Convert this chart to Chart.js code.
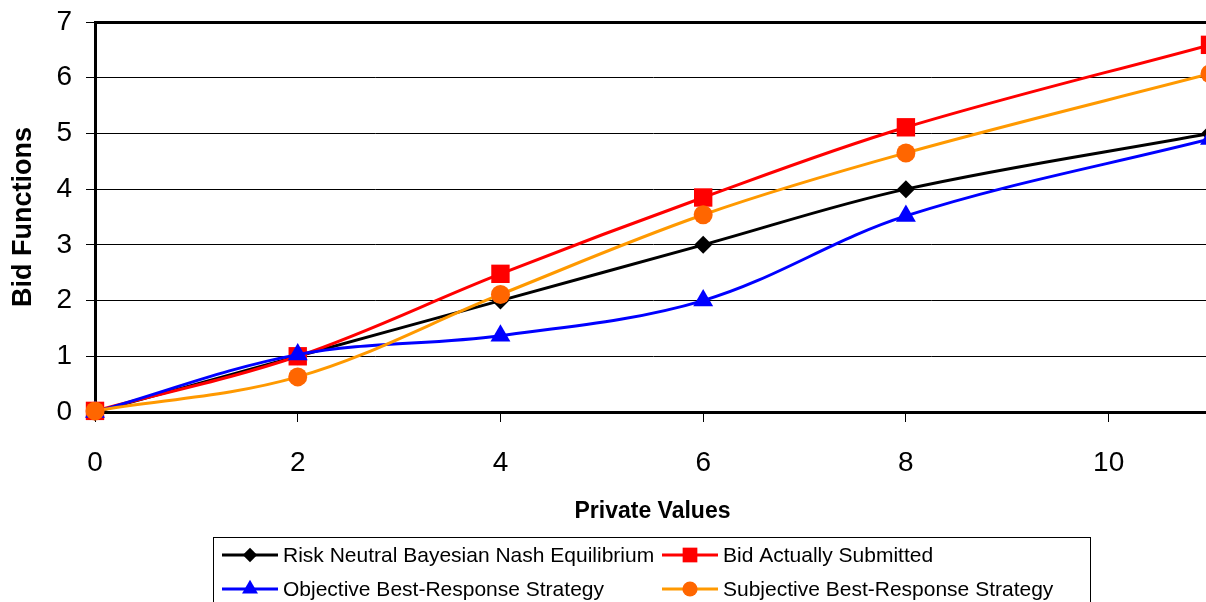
<!DOCTYPE html>
<html>
<head>
<meta charset="utf-8">
<script src="https://cdn.jsdelivr.net/npm/chart.js@4.4.1/dist/chart.umd.min.js"></script>
<style>
  html, body { margin: 0; padding: 0; background: #fff; overflow: hidden; }
  #wrap { width: 1206px; height: 602px; overflow: hidden; }
</style>
</head>
<body>
<div id="wrap"><canvas id="bid-chart" width="1210" height="602"></canvas></div>
<script>
  // -- Data --
  var privateValues = [0, 2, 4, 6, 8, 11];
  var riskNeutral = [0, 1, 2, 3, 4, 5];
  var bidSubmitted = [0.02, 1.0, 2.48, 3.85, 5.11, 6.59];
  var objectiveBR = [0, 1.03, 1.37, 2.0, 3.52, 4.9];
  var subjectiveBR = [0.02, 0.63, 2.11, 3.54, 4.65, 6.07];
  var yTicks = [0, 1, 2, 3, 4, 5, 6, 7];
  var xTicks = [0, 2, 4, 6, 8, 10];

  var FONT = '"Liberation Sans", Arial, sans-serif';

  function toPoints(ys) {
    var pts = [];
    for (var i = 0; i < privateValues.length; i++) {
      pts.push({ x: privateValues[i], y: ys[i] });
    }
    return pts;
  }

  // later series sit on top, as in the original
  function series(label, ys, line, fill, style, radius, order) {
    return {
      label: label,
      data: toPoints(ys),
      order: order,
      borderColor: line,
      backgroundColor: fill,
      pointBackgroundColor: fill,
      pointBorderColor: fill,
      pointBorderWidth: 0,
      pointStyle: style,
      pointRadius: radius,
      borderWidth: 3,
      tension: 0.35,
      fill: false,
      clip: false
    };
  }

  var datasets = [
    series('Risk Neutral Bayesian Nash Equilibrium', riskNeutral, '#000000', '#000000', 'rectRot', 9, 4),
    series('Bid Actually Submitted', bidSubmitted, '#ff0000', '#ff0000', 'rect', 13, 3),
    series('Objective Best-Response Strategy', objectiveBR, '#0000ff', '#0000ff', 'triangle', 11.5, 2),
    series('Subjective Best-Response Strategy', subjectiveBR, '#ff9900', '#ff6600', 'circle', 9.5, 1)
  ];

  // -- Boxed two-column legend, drawn below the axis title --
  var boxLegend = {
    id: 'boxLegend',
    afterDraw: function (chart) {
      var ctx = chart.ctx;
      var cols = [222, 662];
      var rows = [555, 589];
      ctx.save();
      ctx.strokeStyle = '#000';
      ctx.lineWidth = 1;
      ctx.strokeRect(213.5, 537.5, 877, 80);
      ctx.font = '21px ' + FONT;
      ctx.textBaseline = 'middle';
      ctx.textAlign = 'left';
      chart.data.datasets.forEach(function (ds, i) {
        var x = cols[i % 2];
        var y = rows[Math.floor(i / 2)];
        ctx.strokeStyle = ds.borderColor;
        ctx.lineWidth = 3;
        ctx.beginPath();
        ctx.moveTo(x, y);
        ctx.lineTo(x + 56, y);
        ctx.stroke();
        ctx.fillStyle = ds.pointBackgroundColor;
        Chart.helpers.drawPoint(ctx, {
          pointStyle: ds.pointStyle,
          radius: ds.pointRadius * 0.8,
          rotation: 0,
          borderWidth: 0
        }, x + 28, y);
        ctx.fillStyle = '#000';
        ctx.fillText(ds.label, x + 61, y + 1);
      });
      ctx.restore();
    }
  };

  new Chart(document.getElementById('bid-chart').getContext('2d'), {
    type: 'line',
    data: { datasets: datasets },
    plugins: [boxLegend],
    options: {
      responsive: false,
      animation: false,
      layout: {
        autoPadding: false,
        padding: { top: 22, right: 0, bottom: 73, left: 0 }
      },
      plugins: {
        legend: { display: false },
        tooltip: { enabled: false }
      },
      scales: {
        x: {
          type: 'linear',
          min: 0,
          max: 11,
          afterFit: function (scale) {
            scale.height = 117;
            scale.paddingLeft = 0;
            scale.paddingRight = 0;
          },
          afterBuildTicks: function (scale) {
            scale.ticks = xTicks.map(function (v) { return { value: v }; });
          },
          border: { display: true, color: '#000', width: 3 },
          grid: {
            drawOnChartArea: false,
            drawTicks: true,
            tickLength: 10,
            tickColor: '#000',
            tickWidth: 1
          },
          ticks: {
            color: '#000',
            font: { family: FONT, size: 28 },
            padding: 24,
            maxRotation: 0
          },
          title: {
            display: true,
            text: 'Private Values',
            color: '#000',
            font: { family: FONT, size: 23, weight: 'bold' },
            padding: { top: 0, bottom: 4 }
          }
        },
        y: {
          min: 0,
          max: 7,
          afterFit: function (scale) {
            scale.width = 95;
            scale.paddingTop = 0;
            scale.paddingBottom = 0;
          },
          afterBuildTicks: function (scale) {
            scale.ticks = yTicks.map(function (v) { return { value: v }; });
          },
          border: { display: true, color: '#000', width: 3 },
          grid: {
            color: '#000',
            lineWidth: function (c) { return c.tick && c.tick.value === 7 ? 3 : 1; },
            drawTicks: true,
            tickLength: 9,
            tickColor: '#000',
            tickWidth: 1
          },
          ticks: {
            color: '#000',
            font: { family: FONT, size: 28 },
            padding: 14
          },
          title: {
            display: true,
            text: 'Bid Functions',
            color: '#000',
            font: { family: FONT, size: 27, weight: 'bold' },
            padding: { top: 7, bottom: 0 }
          }
        }
      }
    }
  });
</script>
</body>
</html>
